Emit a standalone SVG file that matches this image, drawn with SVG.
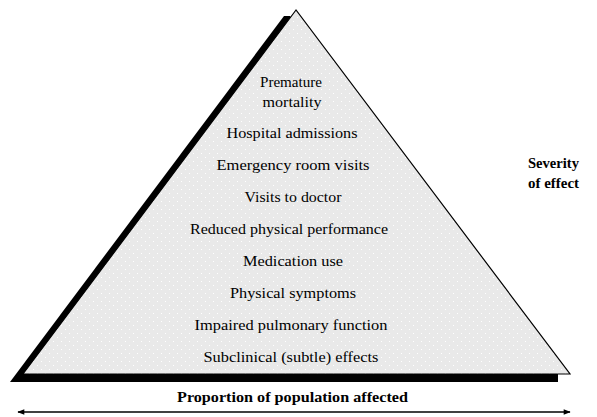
<svg xmlns="http://www.w3.org/2000/svg" width="597" height="417" viewBox="0 0 597 417">
<style>
.lbl{font-family:"Liberation Serif","Times New Roman",serif;font-size:15px;fill:#000;text-anchor:middle}
.bold{font-family:"Liberation Serif","Times New Roman",serif;font-size:15px;font-weight:bold;fill:#000}
</style>
<defs>
<pattern id="dots" width="8" height="8" patternUnits="userSpaceOnUse">
<rect width="8" height="8" fill="#e9e9e9"/>
<rect x="1" y="1" width="1" height="1" fill="#fff"/>
<rect x="5" y="5" width="1" height="1" fill="#fff"/>
</pattern>
<marker id="ah" viewBox="0 0 10 10" refX="9" refY="5" markerWidth="10" markerHeight="7" markerUnits="userSpaceOnUse" orient="auto-start-reverse">
<path d="M0,1 L10,5 L0,9 Z" fill="#000"/>
</marker>
</defs>
<rect width="597" height="417" fill="#fff"/>
<g id="pyramid">
<polygon points="284,16 10,382 558,382 558,374 290,16" fill="#000"/>
<polygon points="296,10 23,374 570,374" fill="url(#dots)" stroke="#000" stroke-width="1.2" stroke-linejoin="miter"/>
</g>
<g id="levels">
<text class="lbl" x="291" y="87" textLength="62" lengthAdjust="spacingAndGlyphs">Premature</text>
<text class="lbl" x="292" y="107" textLength="59" lengthAdjust="spacingAndGlyphs">mortality</text>
<text class="lbl" x="292" y="138" textLength="131" lengthAdjust="spacingAndGlyphs">Hospital admissions</text>
<text class="lbl" x="293" y="170" textLength="153" lengthAdjust="spacingAndGlyphs">Emergency room visits</text>
<text class="lbl" x="293" y="202" textLength="97" lengthAdjust="spacingAndGlyphs">Visits to doctor</text>
<text class="lbl" x="289" y="234" textLength="198" lengthAdjust="spacingAndGlyphs">Reduced physical performance</text>
<text class="lbl" x="293" y="266" textLength="100" lengthAdjust="spacingAndGlyphs">Medication use</text>
<text class="lbl" x="293" y="298" textLength="126" lengthAdjust="spacingAndGlyphs">Physical symptoms</text>
<text class="lbl" x="291" y="330" textLength="193" lengthAdjust="spacingAndGlyphs">Impaired pulmonary function</text>
<text class="lbl" x="291" y="362" textLength="175" lengthAdjust="spacingAndGlyphs">Subclinical (subtle) effects</text>
</g>
<g id="severity">
<text class="bold" x="528" y="168" textLength="51" lengthAdjust="spacingAndGlyphs">Severity</text>
<text class="bold" x="528" y="188" textLength="51" lengthAdjust="spacingAndGlyphs">of effect</text>
</g>
<g id="proportion">
<text class="bold" x="177" y="402" textLength="231" lengthAdjust="spacingAndGlyphs">Proportion of population affected</text>
</g>
<g id="connectors">
<line x1="18" y1="412" x2="570" y2="412" stroke="#000" stroke-width="1.5" marker-start="url(#ah)" marker-end="url(#ah)"/>
</g>
</svg>
